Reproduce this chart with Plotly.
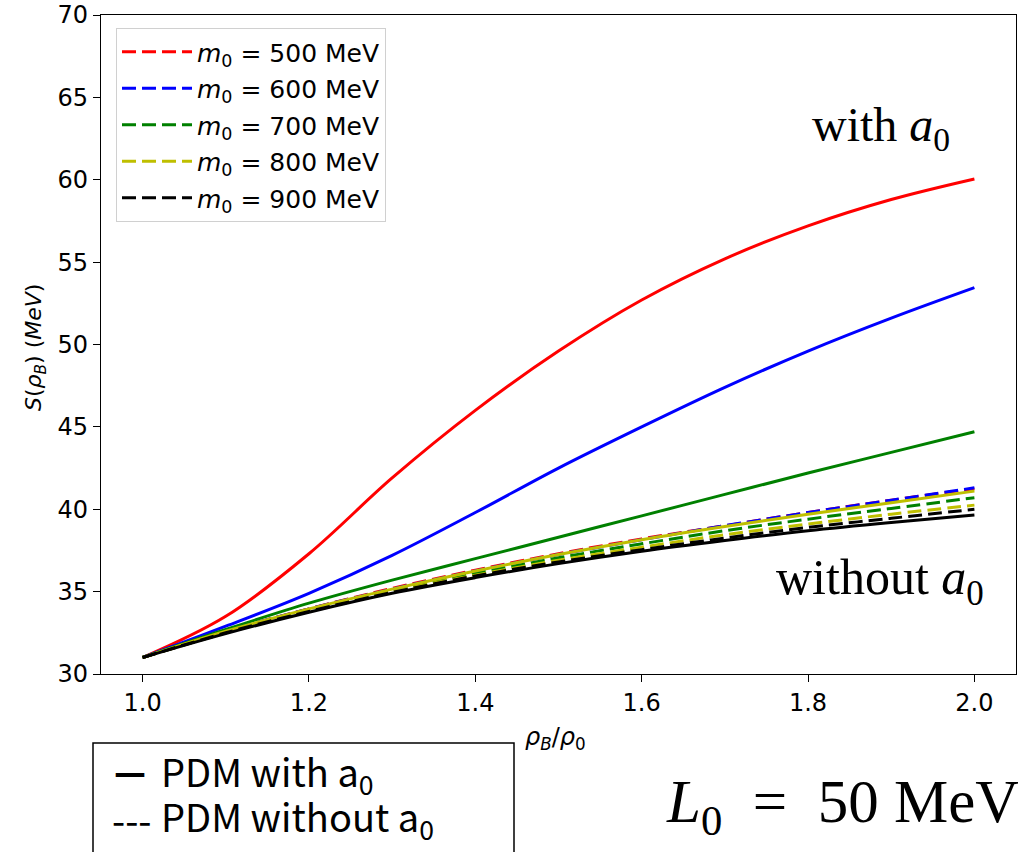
import plotly.graph_objects as go

# ---- data ----
rho = [1.0, 1.1, 1.2, 1.3, 1.4, 1.5, 1.6, 1.7, 1.8, 1.9, 2.0]
mass_labels = ["500", "600", "700", "800", "900"]
colors = ["#ff0000", "#0000ff", "#008000", "#bfbf00", "#000000"]

# PDM with a0 (solid)
s_with_500 = [31.0, 33.5, 37.3, 41.9, 46.0, 49.6, 52.7, 55.2, 57.2, 58.8, 60.05]
s_with_600 = [31.0, 32.9, 34.9, 37.2, 39.8, 42.5, 45.0, 47.4, 49.6, 51.6, 53.45]
s_with_700 = [31.0, 32.7, 34.3, 35.7, 37.0, 38.3, 39.6, 40.9, 42.2, 43.45, 44.7]
s_with_800 = [31.0, 32.6, 33.95, 35.15, 36.25, 37.25, 38.15, 38.95, 39.7, 40.4, 41.1]
s_with_900 = [31.0, 32.45, 33.75, 34.9, 35.85, 36.7, 37.45, 38.1, 38.7, 39.2, 39.65]

# PDM without a0 (dashed)
s_wo_500 = [31.0, 32.6, 33.95, 35.2, 36.3, 37.3, 38.2, 39.0, 39.8, 40.55, 41.25]
s_wo_600 = [31.0, 32.6, 33.95, 35.15, 36.25, 37.25, 38.15, 39.0, 39.8, 40.55, 41.3]
s_wo_700 = [31.0, 32.55, 33.9, 35.05, 36.1, 37.05, 37.9, 38.7, 39.4, 40.05, 40.7]
s_wo_800 = [31.0, 32.5, 33.85, 35.0, 36.0, 36.9, 37.7, 38.45, 39.1, 39.7, 40.25]
s_wo_900 = [31.0, 32.5, 33.8, 34.95, 35.95, 36.8, 37.55, 38.25, 38.9, 39.45, 40.0]

x_ticks = [1.0, 1.2, 1.4, 1.6, 1.8, 2.0]
x_tick_text = ["1.0", "1.2", "1.4", "1.6", "1.8", "2.0"]
y_ticks = [30, 35, 40, 45, 50, 55, 60, 65, 70]

with_series = [s_with_500, s_with_600, s_with_700, s_with_800, s_with_900]
wo_series = [s_wo_500, s_wo_600, s_wo_700, s_wo_800, s_wo_900]

W, H = 1018, 852
def px(x):
    return x / W
def py(y):
    return 1 - y / H

fig = go.Figure()
for m, c, sw, sn in zip(mass_labels, colors, with_series, wo_series):
    fig.add_trace(go.Scatter(
        x=rho, y=sw, mode="lines",
        line=dict(color=c, width=3, shape="spline", smoothing=1.0),
        legendgroup=m, showlegend=False, hoverinfo="skip"))
    fig.add_trace(go.Scatter(
        x=rho, y=sn, mode="lines",
        line=dict(color=c, width=3, dash="14px,6px", shape="spline", smoothing=1.0),
        legendgroup=m, name=f"<i>m</i><sub>0</sub> = {m} MeV"))

axis_common = dict(
    showline=True, mirror=True, linecolor="black", linewidth=1.3,
    ticks="outside", ticklen=7, tickwidth=1.3, tickcolor="black",
    showgrid=False, zeroline=False, automargin=False,
    tickfont=dict(family="DejaVu Sans", size=24, color="black"),
)

fig.update_layout(
    template="none",
    width=W, height=H,
    margin=dict(l=0, r=0, t=0, b=0, pad=0),
    paper_bgcolor="white", plot_bgcolor="white",
    xaxis=dict(domain=[px(101), px(1016)], range=[0.95, 2.05],
               tickvals=x_ticks, ticktext=x_tick_text, **axis_common),
    yaxis=dict(domain=[py(674), py(15)], range=[30, 70],
               tickvals=y_ticks, **axis_common),
    legend=dict(x=px(116), y=py(28), xanchor="left", yanchor="top",
                bgcolor="white", bordercolor="#d0d0d0", borderwidth=1,
                font=dict(family="DejaVu Sans", size=25, color="black"),
                traceorder="grouped", tracegroupgap=1, itemwidth=70),
    showlegend=True,
)

# bottom-left key box
fig.add_shape(type="rect", xref="paper", yref="paper",
              x0=px(93), x1=px(514), y0=py(870), y1=py(743),
              line=dict(color="black", width=1.5), fillcolor="rgba(0,0,0,0)")

def note(text, x, y, size, family, xanchor="center", angle=0):
    return dict(text=text, x=px(x), y=py(y), xref="paper", yref="paper",
                xanchor=xanchor, yanchor="middle", textangle=angle,
                showarrow=False, font=dict(family=family, size=size, color="black"))

ann = [
    note("<i>ρ</i><sub><i>B</i></sub>/<i>ρ</i><sub>0</sub>", 555, 738, 24, "DejaVu Sans"),
    note("<i>S</i>(<i>ρ</i><sub><i>B</i></sub>) (<i>MeV</i>)", 35, 348, 22, "DejaVu Sans", angle=-90),
    note("with <i>a</i><sub>0</sub>", 881, 128, 48, "Liberation Serif"),
    note("without <i>a</i><sub>0</sub>", 880, 581, 50, "Liberation Serif"),
    note("<i>L</i><sub>0</sub>&nbsp;&nbsp;=&nbsp;&nbsp;50&nbsp;MeV", 842, 806, 61, "Liberation Serif"),
    note("<b>—</b>", 112, 773, 32, "DejaVu Sans", xanchor="left"),
    note("PDM with a<sub>0</sub>", 159, 773, 38, "Noto Sans CJK JP", xanchor="left"),
    note("---", 110, 818, 38, "Noto Sans CJK JP", xanchor="left"),
    note("PDM without a<sub>0</sub>", 159, 818, 38, "Noto Sans CJK JP", xanchor="left"),
]
fig.update_layout(annotations=ann)

fig.write_html("out.html")
